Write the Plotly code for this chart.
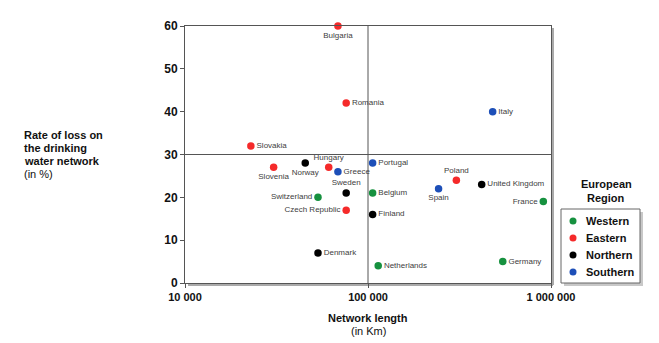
import plotly.graph_objects as go

# Network length (km) and loss rate (%) per country, grouped by European region
regions = ["Western", "Eastern", "Northern", "Southern"]
region_colors = ["#16913f", "#f52a2a", "#000000", "#1d4fb8"]

western_countries = ["Switzerland", "Belgium", "Netherlands", "France", "Germany"]
western_length = [53300, 106000, 113700, 908000, 545000]
western_loss = [20, 21, 4, 19, 5]
western_pos = ["middle left", "middle right", "middle right", "middle left", "middle right"]

eastern_countries = ["Bulgaria", "Romania", "Slovakia", "Slovenia", "Hungary", "Czech Republic", "Poland"]
eastern_length = [68500, 76000, 22900, 30500, 61000, 76000, 304000]
eastern_loss = [60, 42, 32, 27, 27, 17, 24]
eastern_pos = ["bottom center", "middle right", "middle right", "bottom center", "top center", "middle left", "top center"]

northern_countries = ["Norway", "Sweden", "Finland", "Denmark", "United Kingdom"]
northern_length = [45400, 76000, 106000, 53300, 418000]
northern_loss = [28, 21, 16, 7, 23]
northern_pos = ["bottom center", "top center", "middle right", "middle right", "middle right"]

southern_countries = ["Italy", "Greece", "Portugal", "Spain"]
southern_length = [480000, 68500, 106000, 243000]
southern_loss = [40, 26, 28, 22]
southern_pos = ["middle right", "middle right", "middle right", "bottom center"]

x_tickvals = [10000, 100000, 1000000]
x_ticktext = ["10 000", "100 000", "1 000 000"]
y_tickvals = [0, 10, 20, 30, 40, 50, 60]

groups = [
    (western_countries, western_length, western_loss, western_pos),
    (eastern_countries, eastern_length, eastern_loss, eastern_pos),
    (northern_countries, northern_length, northern_loss, northern_pos),
    (southern_countries, southern_length, southern_loss, southern_pos),
]

W, H = 659, 343
L, R, T, B = 185, 108, 26, 60
PW, PH = W - L - R, H - T - B


def px(x):
    """Pixel column -> paper x."""
    return (x - L) / PW


def py(y):
    """Pixel row -> paper y."""
    return (H - B - y) / PH


FONT = "Liberation Sans, Arial"

fig = go.Figure()
for name, color, (countries, length, loss, pos) in zip(regions, region_colors, groups):
    fig.add_trace(go.Scatter(
        x=length, y=loss, text=countries, name=name,
        mode="markers+text", textposition=pos,
        textfont=dict(family=FONT, size=8, color="#404040"),
        marker=dict(color=color, size=7.5),
        cliponaxis=False, showlegend=False,
    ))

axis_font = dict(family=FONT, size=11, color="#111111")

# Reference lines at 100 000 km and 30 %
fig.add_shape(type="line", xref="x", yref="y", x0=100000, x1=100000, y0=0, y1=60,
              line=dict(color="#555555", width=1), layer="below")
fig.add_shape(type="line", xref="x", yref="y", x0=10000, x1=1000000, y0=30, y1=30,
              line=dict(color="#555555", width=1), layer="below")
# Soft shadow along the right and bottom of the frame
fig.add_shape(type="line", xref="paper", yref="paper", x0=px(553), x1=px(553), y0=py(285), y1=py(28),
              line=dict(color="#aaaaaa", width=2), layer="below")
fig.add_shape(type="line", xref="paper", yref="paper", x0=px(188), x1=px(553), y0=py(285), y1=py(285),
              line=dict(color="#aaaaaa", width=2), layer="below")

# Region key: shadow, box, dots and labels
fig.add_shape(type="rect", xref="paper", yref="paper", x0=px(564), x1=px(643), y0=py(212), y1=py(286),
              line=dict(width=0), fillcolor="#c8c8c8")
fig.add_shape(type="rect", xref="paper", yref="paper", x0=px(561), x1=px(640), y0=py(209), y1=py(283),
              line=dict(color="#666666", width=1), fillcolor="white")
for i, (name, color) in enumerate(zip(regions, region_colors)):
    yc = 221 + i * 17
    fig.add_shape(type="circle", xref="paper", yref="paper",
                  xsizemode="pixel", ysizemode="pixel",
                  xanchor=px(573), yanchor=py(yc), x0=-3.5, x1=3.5, y0=-3.5, y1=3.5,
                  line=dict(width=0), fillcolor=color)
    fig.add_annotation(xref="paper", yref="paper", x=px(584), y=py(yc),
                       xanchor="left", yanchor="middle", text=f"<b>{name}</b>",
                       showarrow=False, font=axis_font)
fig.add_annotation(xref="paper", yref="paper", x=px(606), y=py(184), xanchor="center", yanchor="middle",
                   text="<b>European</b>", showarrow=False, font=axis_font)
fig.add_annotation(xref="paper", yref="paper", x=px(606), y=py(198), xanchor="center", yanchor="middle",
                   text="<b>Region</b>", showarrow=False, font=axis_font)

# Axis titles, one annotation per line for tight line spacing
y_title_lines = ["<b>Rate of loss on</b>", "<b>the drinking</b>", "<b>water network</b>", "(in %)"]
for i, line in enumerate(y_title_lines):
    fig.add_annotation(xref="paper", yref="paper", x=px(22), y=py(135 + 13 * i),
                       xanchor="left", yanchor="middle", text=line, showarrow=False, font=axis_font)
x_title_lines = ["<b>Network length</b>", "(in Km)"]
for i, line in enumerate(x_title_lines):
    fig.add_annotation(xref="paper", yref="paper", x=0.5, y=py(318 + 13 * i),
                       xanchor="center", yanchor="middle", text=line, showarrow=False, font=axis_font)

fig.update_xaxes(
    type="log", range=[4, 6], tickvals=x_tickvals, ticktext=x_ticktext,
    tickfont=dict(family=FONT, size=11, color="#111111", weight="bold"),
    showgrid=False, zeroline=False, showline=True, linecolor="#555555", linewidth=1,
    mirror=True, ticks="outside", ticklen=4, tickcolor="#555555",
)
fig.update_yaxes(
    range=[0, 60], tickvals=y_tickvals,
    tickfont=dict(family=FONT, size=12, color="#111111", weight="bold"),
    showgrid=False, zeroline=False, showline=True, linecolor="#555555", linewidth=1,
    mirror=True, ticks="outside", ticklen=4, tickcolor="#555555",
)

fig.update_layout(
    width=W, height=H,
    margin=dict(l=L, r=R, t=T, b=B, autoexpand=False),
    plot_bgcolor="white", paper_bgcolor="white",
    showlegend=False,
)

fig.write_html("out.html")
